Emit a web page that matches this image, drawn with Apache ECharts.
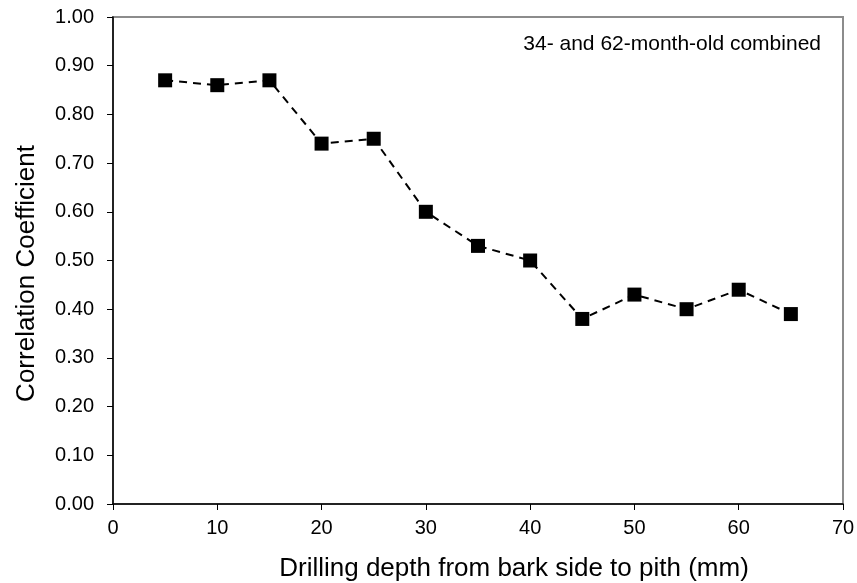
<!DOCTYPE html>
<html>
<head>
<meta charset="utf-8">
<script src="https://cdn.jsdelivr.net/npm/echarts@6/dist/echarts.min.js"></script>
<style>
  html, body { margin: 0; padding: 0; background: #fff; }
  #chart { width: 857px; height: 583px; }
</style>
</head>
<body>
<div id="chart"></div>
<script>
// Drilling depth (mm) and correlation coefficient at each depth
const depths = [5, 10, 15, 20, 25, 30, 35, 40, 45, 50, 55, 60, 65];
const correlations = [0.87, 0.86, 0.87, 0.74, 0.75, 0.60, 0.53, 0.50, 0.38, 0.43, 0.40, 0.44, 0.39];
const noteText = '34- and 62-month-old combined';

const FONT = 'Liberation Sans, Arial, sans-serif';
const chart = echarts.init(document.getElementById('chart'), null, { renderer: 'canvas' });

chart.setOption({
  animation: false,
  backgroundColor: '#fff',
  grid: {
    left: 113, right: 14, top: 17, bottom: 79,
    outerBoundsMode: 'none', containLabel: false,
    show: true, borderColor: '#8c8c8c', borderWidth: 2
  },
  graphic: [{
    type: 'text',
    right: 36, top: 34,
    style: { text: noteText, font: '21px ' + FONT, fill: '#000' }
  }],
  xAxis: {
    type: 'value', min: 0, max: 70, interval: 10,
    name: 'Drilling depth from bark side to pith (mm)',
    nameLocation: 'middle', nameGap: 52,
    // left padding nudges the title to the right of the plot centre
    nameTextStyle: { fontFamily: FONT, fontSize: 26, color: '#000', padding: [0, 0, 0, 72] },
    axisLine: { show: true, lineStyle: { color: '#000', width: 1.5 } },
    axisTick: { show: true, inside: false, length: 6, lineStyle: { color: '#000', width: 1 } },
    axisLabel: { fontFamily: FONT, fontSize: 20, color: '#000', margin: 14 },
    splitLine: { show: false }
  },
  yAxis: {
    type: 'value', min: 0, max: 1, interval: 0.1,
    name: 'Correlation Coefficient',
    nameLocation: 'middle', nameGap: 73,
    // right padding moves the rotated title slightly downward
    nameTextStyle: { fontFamily: FONT, fontSize: 26, color: '#000', padding: [0, 26, 0, 0] },
    axisLine: { show: true, lineStyle: { color: '#000', width: 1.5 } },
    axisTick: { show: true, inside: false, length: 6, lineStyle: { color: '#000', width: 1 } },
    axisLabel: { fontFamily: FONT, fontSize: 20, color: '#000', margin: 19,
      formatter: v => v.toFixed(2) },
    splitLine: { show: false }
  },
  series: [{
    type: 'line',
    data: depths.map((d, i) => [d, correlations[i]]),
    symbol: 'rect', symbolSize: 14,
    itemStyle: { color: '#000' },
    lineStyle: { color: '#000', width: 2, type: [8, 6] }
  }]
});
</script>
</body>
</html>
